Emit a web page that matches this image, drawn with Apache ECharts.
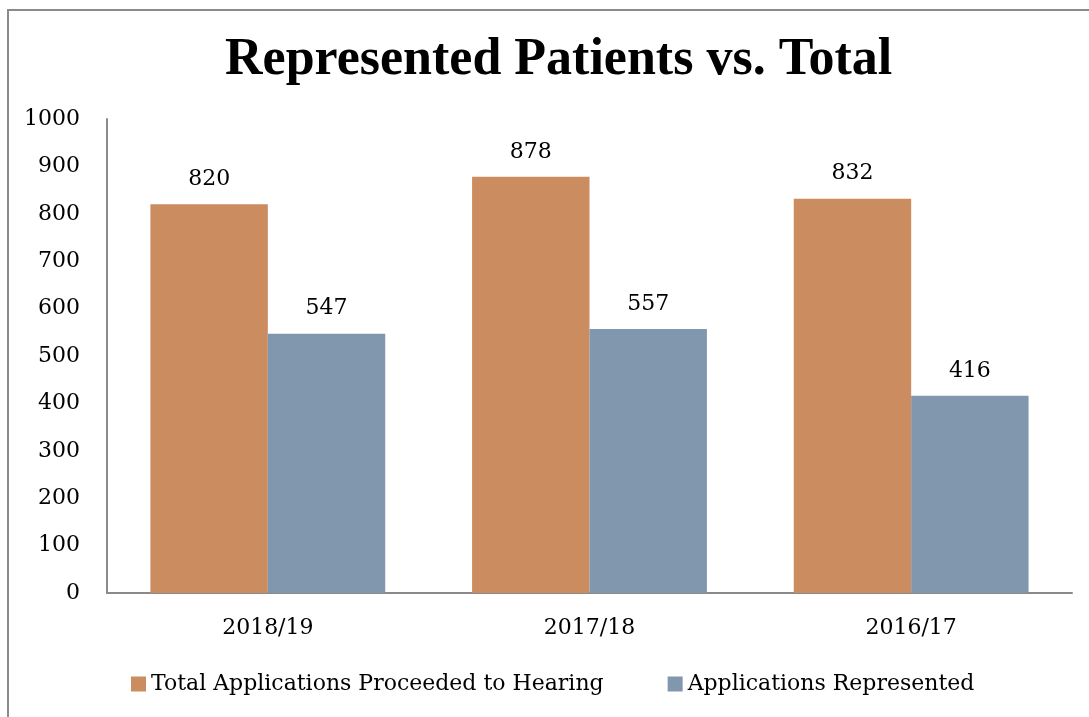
<!DOCTYPE html>
<html>
<head>
<meta charset="utf-8">
<script src="https://cdn.jsdelivr.net/npm/echarts@6/dist/echarts.min.js"></script>
<style>
  html, body { margin: 0; padding: 0; background: #fff; }
  #chart { width: 1089px; height: 717px; }
</style>
</head>
<body>
<div id="chart"></div>
<script>
var categories = ['2018/19', '2017/18', '2016/17'];
var totalHearing = [820, 878, 832];
var represented = [547, 557, 416];
var yTicks = [0, 100, 200, 300, 400, 500, 600, 700, 800, 900, 1000];

var serif = '"DejaVu Serif", "Liberation Serif", serif';
var titleFont = '"Liberation Serif", serif';

var chart = echarts.init(document.getElementById('chart'));
chart.setOption({
    animation: false,
    textStyle: { fontFamily: serif },
    graphic: [{
        type: 'rect',
        shape: { x: 8, y: 10, width: 1100, height: 720 },
        style: { fill: 'none', stroke: '#8a8a8a', lineWidth: 2 },
        silent: true
    }],
    title: {
        text: 'Represented Patients vs. Total',
        left: 220,
        top: 30,
        textStyle: { fontFamily: titleFont, fontSize: 52, fontWeight: 'bold', color: '#000' }
    },
    legend: {
        bottom: 17,
        left: 126,
        itemWidth: 15,
        itemHeight: 15,
        itemGap: 64,
        icon: 'rect',
        textStyle: { fontFamily: serif, fontSize: 22, color: '#000' }
    },
    grid: { left: 107, right: 17, top: 119, bottom: 124, containLabel: false },
    xAxis: {
        type: 'category',
        data: categories,
        axisLine: { lineStyle: { color: '#8a8a8a', width: 2 } },
        axisTick: { show: false },
        axisLabel: { fontSize: 22, color: '#000', margin: 24 }
    },
    yAxis: {
        type: 'value',
        min: yTicks[0],
        max: yTicks[yTicks.length - 1],
        interval: 100,
        axisLine: { show: true, lineStyle: { color: '#8a8a8a', width: 2 } },
        axisTick: { show: false },
        splitLine: { show: false },
        axisLabel: { fontSize: 22, color: '#000', margin: 27, formatter: function (v) { return String(v); } }
    },
    series: [{
        name: 'Total Applications Proceeded to Hearing',
        type: 'bar',
        data: totalHearing,
        barGap: '0%',
        barCategoryGap: '27%',
        itemStyle: { color: '#cb8c60' },
        label: { show: true, position: 'top', distance: 14, fontSize: 22, color: '#000', fontFamily: serif }
    }, {
        name: 'Applications Represented',
        type: 'bar',
        data: represented,
        itemStyle: { color: '#8097ae' },
        label: { show: true, position: 'top', distance: 14, fontSize: 22, color: '#000', fontFamily: serif }
    }]
});
</script>
</body>
</html>
